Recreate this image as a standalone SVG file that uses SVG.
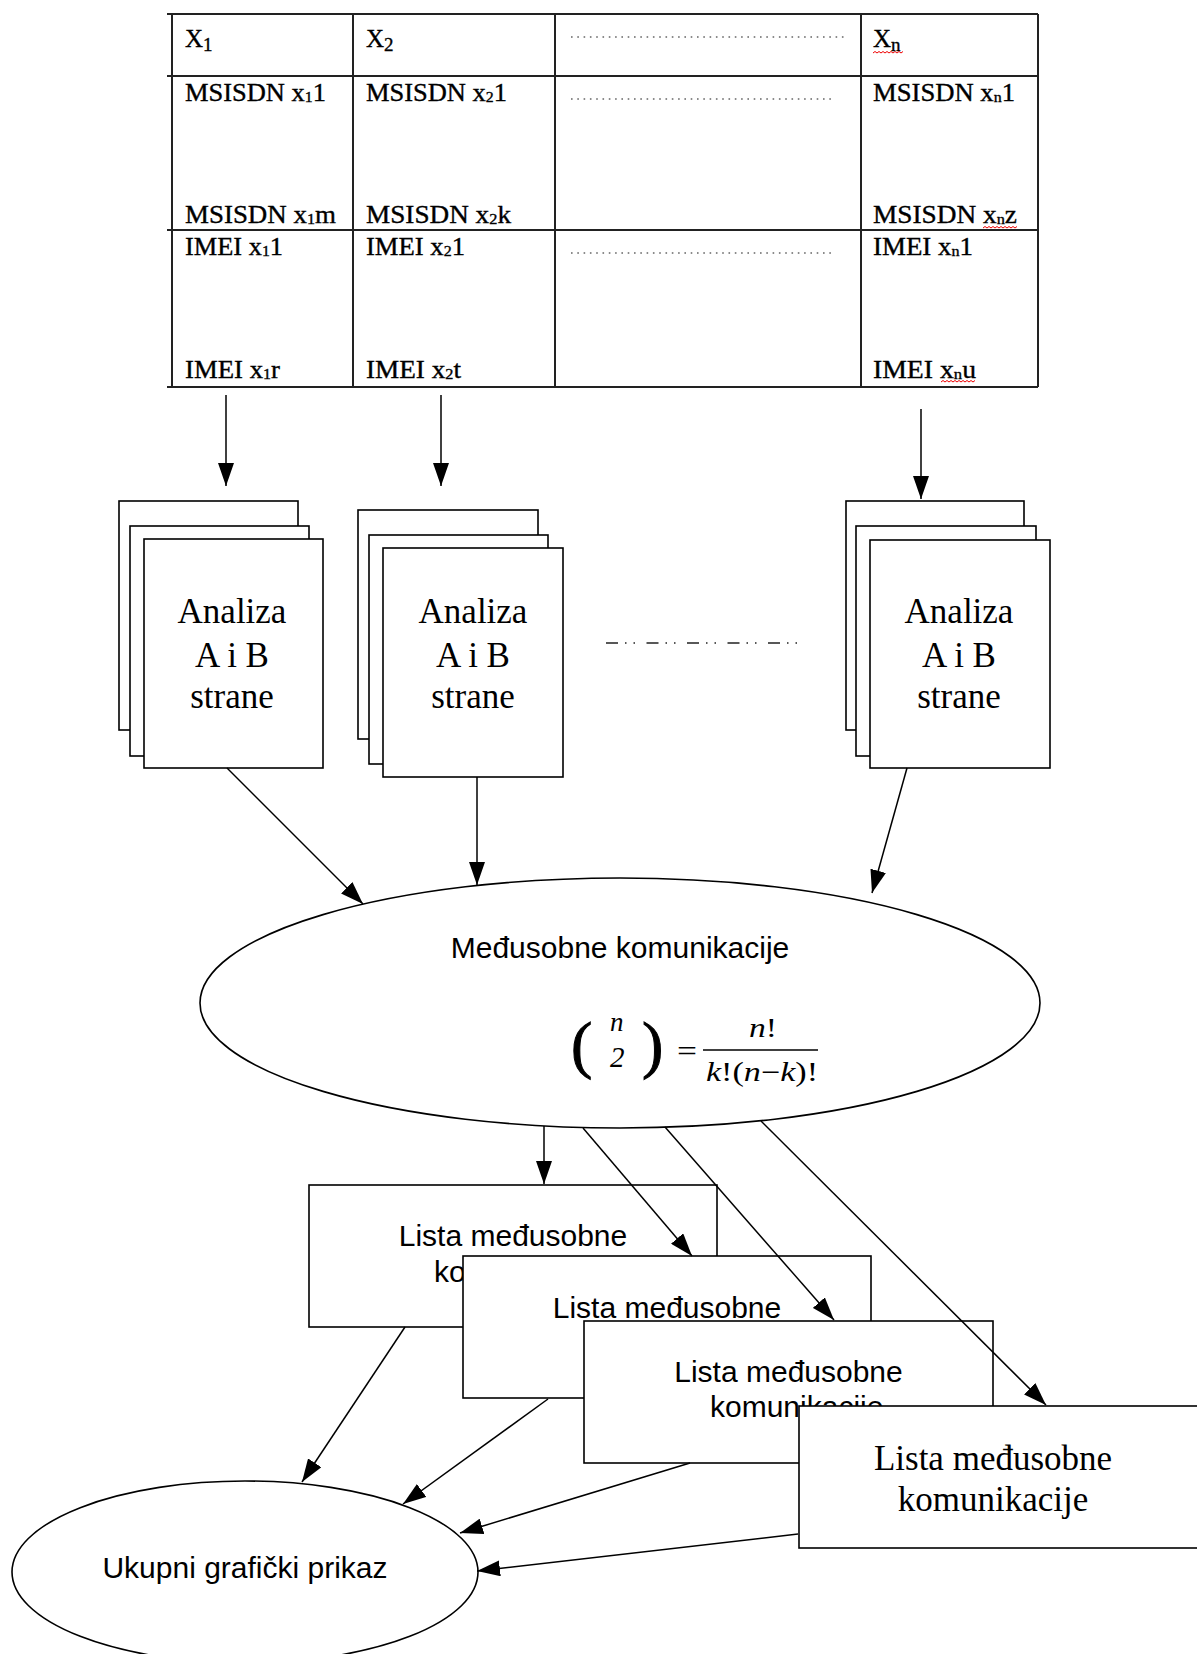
<svg xmlns="http://www.w3.org/2000/svg" width="1197" height="1654" viewBox="0 0 1197 1654">
<style>
.tl{stroke:#222;stroke-width:2;fill:none}
.tt{font-family:"Liberation Serif","Times New Roman",serif;font-size:25px;fill:#000;stroke:#000;stroke-width:0.35}
.sb{font-size:15px}
.hs{font-size:19px}
.dots{stroke:#666;stroke-width:1.6;stroke-dasharray:1.6 4.7;fill:none}
.wave{stroke:#e00;stroke-width:1;fill:none}
.box{fill:#fff;stroke:#000;stroke-width:1.6}
.ser{font-family:"Liberation Serif","Times New Roman",serif;font-size:35px;text-anchor:middle;fill:#000}
.san{font-family:"Liberation Sans",Arial,sans-serif;font-size:30px;fill:#000}
.mid{text-anchor:middle}
.edge{stroke:#000;stroke-width:1.5;fill:none;marker-end:url(#ah)}
.math{font-family:"Liberation Serif","Times New Roman",serif;font-style:italic;fill:#000}
.up{font-style:normal}
</style>
<defs>
<marker id="ah" markerUnits="userSpaceOnUse" markerWidth="23" markerHeight="16" refX="23" refY="8" orient="auto">
<path d="M0,0 L23,8 L0,16 z" fill="#000"/>
</marker>
</defs>
<rect width="1197" height="1654" fill="#fff"/>

<g id="table">
<line class="tl" x1="167" y1="14" x2="1038" y2="14"/>
<line class="tl" x1="167" y1="76" x2="1038" y2="76"/>
<line class="tl" x1="167" y1="230" x2="1038" y2="230"/>
<line class="tl" x1="167" y1="387" x2="1038" y2="387"/>
<line class="tl" x1="172" y1="14" x2="172" y2="387"/>
<line class="tl" x1="353" y1="14" x2="353" y2="387"/>
<line class="tl" x1="555" y1="14" x2="555" y2="387"/>
<line class="tl" x1="861" y1="14" x2="861" y2="387"/>
<line class="tl" x1="1038" y1="14" x2="1038" y2="387"/>

<text class="tt" x="185" y="47" font-size="27">X<tspan class="hs" dy="4">1</tspan></text>
<text class="tt" x="366" y="47" font-size="27">X<tspan class="hs" dy="4">2</tspan></text>
<text class="tt" x="873" y="47" font-size="27">X<tspan class="hs" dy="4">n</tspan></text>
<line class="dots" x1="571" y1="37" x2="848" y2="37"/>

<text class="tt" x="185" y="101" textLength="141" lengthAdjust="spacingAndGlyphs">MSISDN x<tspan class="sb" dy="1">1</tspan><tspan dy="-1">1</tspan></text>
<text class="tt" x="366" y="101" textLength="141" lengthAdjust="spacingAndGlyphs">MSISDN x<tspan class="sb" dy="1">2</tspan><tspan dy="-1">1</tspan></text>
<text class="tt" x="873" y="101" textLength="142" lengthAdjust="spacingAndGlyphs">MSISDN x<tspan class="sb" dy="1">n</tspan><tspan dy="-1">1</tspan></text>
<line class="dots" x1="571" y1="99" x2="835" y2="99"/>

<text class="tt" x="185" y="223" textLength="151" lengthAdjust="spacingAndGlyphs">MSISDN x<tspan class="sb" dy="1">1</tspan><tspan dy="-1">m</tspan></text>
<text class="tt" x="366" y="223" textLength="145" lengthAdjust="spacingAndGlyphs">MSISDN x<tspan class="sb" dy="1">2</tspan><tspan dy="-1">k</tspan></text>
<text class="tt" x="873" y="223" textLength="144" lengthAdjust="spacingAndGlyphs">MSISDN x<tspan class="sb" dy="1">n</tspan><tspan dy="-1">z</tspan></text>

<text class="tt" x="185" y="255" textLength="98" lengthAdjust="spacingAndGlyphs">IMEI x<tspan class="sb" dy="1">1</tspan><tspan dy="-1">1</tspan></text>
<text class="tt" x="366" y="255" textLength="99" lengthAdjust="spacingAndGlyphs">IMEI x<tspan class="sb" dy="1">2</tspan><tspan dy="-1">1</tspan></text>
<text class="tt" x="873" y="255" textLength="100" lengthAdjust="spacingAndGlyphs">IMEI x<tspan class="sb" dy="1">n</tspan><tspan dy="-1">1</tspan></text>
<line class="dots" x1="571" y1="253" x2="835" y2="253"/>

<text class="tt" x="185" y="378" textLength="95" lengthAdjust="spacingAndGlyphs">IMEI x<tspan class="sb" dy="1">1</tspan><tspan dy="-1">r</tspan></text>
<text class="tt" x="366" y="378" textLength="95" lengthAdjust="spacingAndGlyphs">IMEI x<tspan class="sb" dy="1">2</tspan><tspan dy="-1">t</tspan></text>
<text class="tt" x="873" y="378" textLength="103" lengthAdjust="spacingAndGlyphs">IMEI x<tspan class="sb" dy="1">n</tspan><tspan dy="-1">u</tspan></text>

<path class="wave" d="M873 53 l2 -1.5 l2 1.5 l2 -1.5 l2 1.5 l2 -1.5 l2 1.5 l2 -1.5 l2 1.5 l2 -1.5 l2 1.5 l2 -1.5 l2 1.5 l2 -1.5 l2 1.5 l2 -1.5"/>
<path class="wave" d="M983 228 l2 -1.5 l2 1.5 l2 -1.5 l2 1.5 l2 -1.5 l2 1.5 l2 -1.5 l2 1.5 l2 -1.5 l2 1.5 l2 -1.5 l2 1.5 l2 -1.5 l2 1.5 l2 -1.5 l2 1.5 l2 -1.5"/>
<path class="wave" d="M941 382 l2 -1.5 l2 1.5 l2 -1.5 l2 1.5 l2 -1.5 l2 1.5 l2 -1.5 l2 1.5 l2 -1.5 l2 1.5 l2 -1.5 l2 1.5 l2 -1.5 l2 1.5 l2 -1.5 l2 1.5 l2 -1.5"/>
</g>

<g id="analiza1">
<rect class="box" x="119" y="501" width="179" height="229"/>
<rect class="box" x="130" y="526" width="179" height="230"/>
<rect class="box" x="144" y="539" width="179" height="229"/>
<text class="ser" x="232" y="623">Analiza</text>
<text class="ser" x="232" y="667">A i B</text>
<text class="ser" x="232" y="708">strane</text>
</g>
<g id="analiza2">
<rect class="box" x="358" y="510" width="180" height="229"/>
<rect class="box" x="369" y="535" width="179" height="229"/>
<rect class="box" x="383" y="548" width="180" height="229"/>
<text class="ser" x="473" y="623">Analiza</text>
<text class="ser" x="473" y="667">A i B</text>
<text class="ser" x="473" y="708">strane</text>
</g>
<g id="analizaN">
<rect class="box" x="846" y="501" width="178" height="229"/>
<rect class="box" x="856" y="526" width="180" height="230"/>
<rect class="box" x="870" y="540" width="180" height="228"/>
<text class="ser" x="959" y="623">Analiza</text>
<text class="ser" x="959" y="667">A i B</text>
<text class="ser" x="959" y="708">strane</text>
</g>
<g id="ellipsis">
<line x1="606" y1="643" x2="800" y2="643" stroke="#222" stroke-width="1.5" stroke-dasharray="12 7 1.5 7 1.5 11.5"/>
</g>

<g id="medjusobne">
<ellipse cx="620" cy="1003" rx="420" ry="125" fill="#fff" stroke="#000" stroke-width="1.6"/>
<text class="san mid" x="620" y="958">Međusobne komunikacije</text>
<text class="math up" x="571" y="1066" font-size="64" stroke="#000" stroke-width="1">(</text>
<text class="math up" x="642" y="1066" font-size="64" stroke="#000" stroke-width="1">)</text>
<text class="math" x="610" y="1031" font-size="27">n</text>
<text class="math" x="610" y="1067" font-size="29">2</text>
<text class="math up" x="677" y="1061" font-size="30" textLength="20" lengthAdjust="spacingAndGlyphs">=</text>
<text class="math" x="749" y="1037" font-size="27" textLength="28" lengthAdjust="spacingAndGlyphs">n<tspan class="up">!</tspan></text>
<line x1="703" y1="1050" x2="818" y2="1050" stroke="#000" stroke-width="1.5"/>
<text class="math" x="706" y="1081" font-size="27" textLength="112" lengthAdjust="spacingAndGlyphs">k<tspan class="up">!(</tspan>n<tspan class="up">−</tspan>k<tspan class="up">)!</tspan></text>
</g>

<g id="lista1">
<rect class="box" x="309" y="1185" width="408" height="142"/>
<text class="san mid" x="513" y="1246">Lista međusobne</text>
<text class="san" x="434" y="1282">komunikacije</text>
</g>
<g id="lista2">
<rect class="box" x="463" y="1256" width="408" height="142"/>
<text class="san mid" x="667" y="1318">Lista međusobne</text>
<text class="san" x="588" y="1354">komunikacije</text>
</g>
<g id="lista3">
<rect class="box" x="584" y="1321" width="409" height="142"/>
<text class="san mid" x="788.5" y="1382">Lista međusobne</text>
<text class="san" x="710" y="1417">komunikacije</text>
</g>
<g id="lista4">
<rect class="box" x="799" y="1406" width="408" height="142"/>
<text class="ser" x="993" y="1470">Lista međusobne</text>
<text class="ser" x="993" y="1511">komunikacije</text>
</g>

<g id="ukupni">
<ellipse cx="245" cy="1572" rx="233" ry="91" fill="#fff" stroke="#000" stroke-width="1.6"/>
<text class="san mid" x="245" y="1578">Ukupni grafički prikaz</text>
</g>

<g id="connectors">
<line class="edge" x1="226" y1="395" x2="226" y2="486"/>
<line class="edge" x1="441" y1="395" x2="441" y2="486"/>
<line class="edge" x1="921" y1="409" x2="921" y2="499"/>
<line class="edge" x1="227" y1="768" x2="363" y2="904"/>
<line class="edge" x1="477" y1="777" x2="477" y2="885"/>
<line class="edge" x1="907" y1="768" x2="872" y2="893"/>
<line class="edge" x1="544" y1="1126" x2="544" y2="1184"/>
<line class="edge" x1="583" y1="1128" x2="692" y2="1256"/>
<line class="edge" x1="665" y1="1127" x2="834" y2="1320"/>
<line class="edge" x1="761" y1="1121" x2="1046" y2="1405"/>
<line class="edge" x1="405" y1="1327" x2="302" y2="1482"/>
<line class="edge" x1="548" y1="1399" x2="403" y2="1504"/>
<line class="edge" x1="690" y1="1463" x2="460" y2="1533"/>
<line class="edge" x1="798" y1="1534" x2="477" y2="1571"/>
</g>
</svg>
